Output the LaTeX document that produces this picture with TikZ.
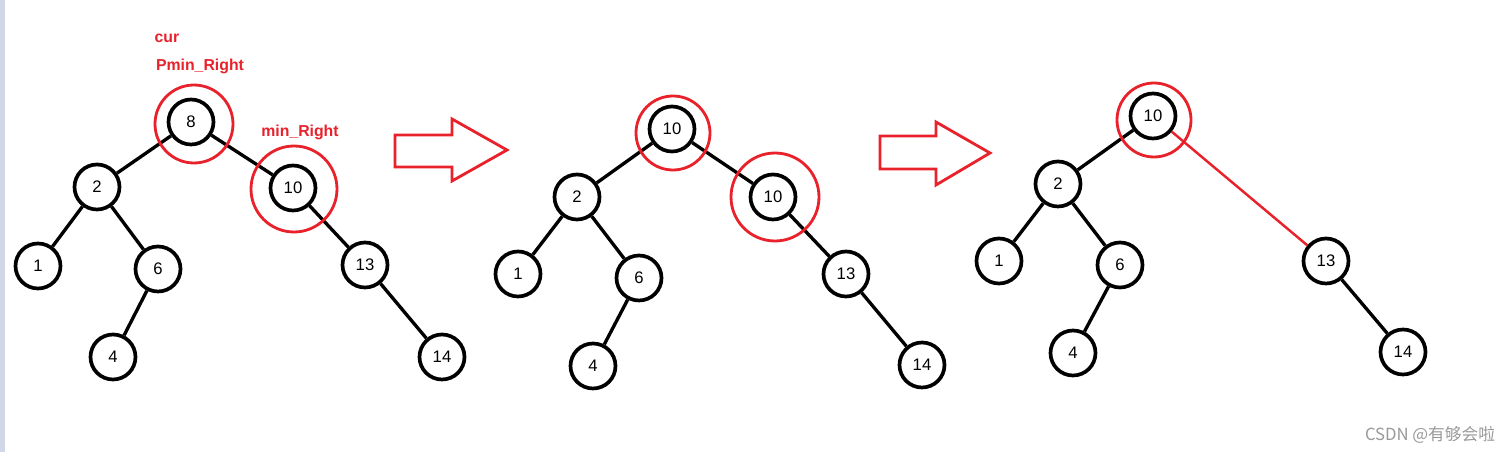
\documentclass[tikz,border=0pt]{standalone}
\usepackage{fontspec}
\setmainfont{Liberation Sans}
\newfontfamily\cjk{Noto Sans CJK SC}
\definecolor{penred}{HTML}{E8212B}
\definecolor{sidebar}{HTML}{D0D8E7}
\tikzset{
  key/.style={circle, draw, line width=2.1pt, minimum size=0.9cm, inner sep=0pt,
    font=\fontsize{9.5}{10}\selectfont},
  ring/.style={draw=penred, line width=1.6pt},
  link/.style={line width=1.9pt},
  tag/.style={text=penred, font=\bfseries\fontsize{9}{10}\selectfont},
  bigarrow/.style={draw=penred, line width=1.6pt, line join=miter},
}
\begin{document}
\begin{tikzpicture}[x=0.02cm, y=-0.02cm]
\useasboundingbox (0,0) rectangle (1512,452);
\fill[sidebar] (0,0) rectangle (5,452);

% first tree: before deleting 8
\node[key] (a8) at (191,122) {8};
\node[key] (a2) at (97,187) {2};
\node[key] (a10) at (293,188) {10};
\node[key] (a1) at (38,266) {1};
\node[key] (a6) at (158,269) {6};
\node[key] (a13) at (365,265) {13};
\node[key] (a4) at (113,357) {4};
\node[key] (a14) at (442,357) {14};
\foreach \u/\v in {a8/a2, a8/a10, a2/a1, a2/a6, a6/a4, a10/a13, a13/a14}
  \draw[link] (\u) -- (\v);
\draw[ring] (194,124) circle[radius=39];
\draw[ring] (294,189) circle[radius=43];
\node[tag] (cur) at (167,38) {cur};
\node[tag] (pmin) at (200,66) {Pmin\_Right};
\node[tag] (minr) at (300,132) {min\_Right};

% first arrow
\draw[bigarrow] (395,135) -- (452,135) -- (452,119) -- (507,150) -- (452,181) -- (452,167) -- (395,167) -- cycle;

% second tree: 10 copied into the root
\node[key] (br) at (672,129) {10};
\node[key] (b2) at (577,197) {2};
\node[key] (b10) at (773,197) {10};
\node[key] (b1) at (518,274) {1};
\node[key] (b6) at (639,278) {6};
\node[key] (b13) at (846,274) {13};
\node[key] (b4) at (593,366) {4};
\node[key] (b14) at (922,365) {14};
\foreach \u/\v in {br/b2, br/b10, b2/b1, b2/b6, b6/b4, b10/b13, b13/b14}
  \draw[link] (\u) -- (\v);
\draw[ring] (673,133) circle[radius=37];
\draw[ring] (775,197) circle[radius=44];

% second arrow
\draw[bigarrow] (880,136) -- (936,136) -- (936,122) -- (990,153) -- (936,185) -- (936,169) -- (880,169) -- cycle;

% third tree: min_Right removed
\node[key] (cr) at (1153,116) {10};
\node[key] (c2) at (1058,184) {2};
\node[key] (c1) at (999,261) {1};
\node[key] (c6) at (1120,265) {6};
\node[key] (c13) at (1326,261) {13};
\node[key] (c4) at (1073,353) {4};
\node[key] (c14) at (1403,352) {14};
\foreach \u/\v in {cr/c2, c2/c1, c2/c6, c6/c4, c13/c14}
  \draw[link] (\u) -- (\v);
\draw[link, draw=penred, line width=1.4pt] (cr) -- (c13);
\draw[ring] (1154,120) circle[radius=37];

\node[text=black!40, font=\cjk\fontsize{9.5}{10}\selectfont] (mark) at (1430,435) {CSDN @有够会啦};
\end{tikzpicture}
\end{document}
